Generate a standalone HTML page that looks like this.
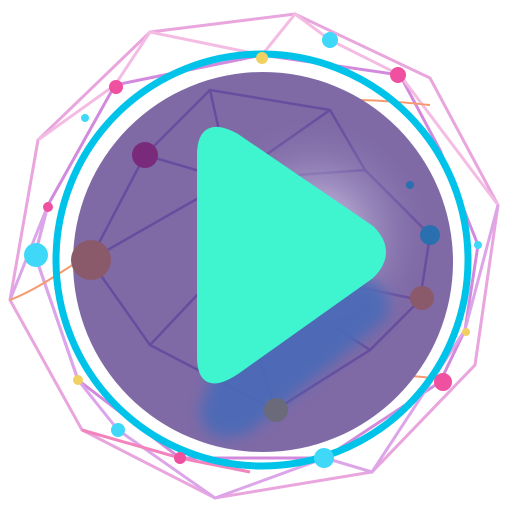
<!DOCTYPE html>
<html><head><meta charset="utf-8"><style>html,body{margin:0;padding:0;background:#fff;width:512px;height:512px;overflow:hidden}</style></head>
<body>
<svg width="512" height="512" viewBox="0 0 512 512">
<defs>
<radialGradient id="glow" cx="0.5" cy="0.5" r="0.5">
<stop offset="0" stop-color="#ffffff" stop-opacity="1"/>
<stop offset="0.35" stop-color="#c0b6dc" stop-opacity="0.65"/>
<stop offset="1" stop-color="#7f6aa6" stop-opacity="0"/>
</radialGradient>
<filter id="blur"><feGaussianBlur stdDeviation="7"/></filter>
</defs>
<g fill="none" stroke-width="3" opacity="0.7">
<polygon points="150,32 295,14 430,78 498,205 475,365 372,472 215,498 82,430 10,300 38,140" stroke="#e07fd0"/>
<polygon points="115,85 262,55 400,75 440,150 478,245 465,330 440,382 325,458 180,458 78,380 35,255 48,205" stroke="#c05ad0"/>
<polyline points="38,140 115,85 150,32 262,55 295,14 330,40 400,75 498,205" stroke="#f0a0d8"/>
<polyline points="10,300 48,205 35,255 78,380 118,430 215,498 325,458 372,472 465,330 498,205" stroke="#d080e0"/>
<polyline points="82,430 180,458 250,472" stroke="#ee4fa0"/>
<path d="M10,300 C60,280 80,250 150,230" stroke="#f07030" stroke-width="2"/>
<path d="M270,110 C330,95 380,100 430,105" stroke="#f07030" stroke-width="2"/>
<path d="M280,410 C340,380 400,370 440,380" stroke="#f07030" stroke-width="2"/>
</g>
<circle cx="263" cy="262" r="190" fill="#7f6aa6"/>
<g stroke="#5a3a9a" stroke-width="2.5" fill="none" opacity="0.6">
<polyline points="145,155 210,90 330,110 365,170 430,235 420,300 370,350 275,410 150,345 90,260 145,155"/>
<polyline points="145,155 230,180 330,110"/>
<polyline points="90,260 230,180 365,170"/>
<polyline points="150,345 230,260 420,300"/>
<polyline points="275,410 230,260 370,350"/>
<polyline points="210,90 230,180"/>
</g>
<circle cx="315" cy="235" r="120" fill="url(#glow)"/>
<path d="M230,320 L360,275 Q400,290 385,320 L250,432 Q205,450 200,410 Z" fill="#4a6ab8" opacity="0.9" filter="url(#blur)"/>
<circle cx="262" cy="260" r="206" fill="none" stroke="#00c3ea" stroke-width="7"/>
<path d="M202,155 Q202,120 235,138 L370,230 Q392,252 370,274 L235,370 Q202,392 202,357 Z" fill="#3ef5d0" stroke="#3ef5d0" stroke-width="10" stroke-linejoin="round"/>
<g>
<circle cx="145" cy="155" r="13" fill="#7a2a7a"/>
<circle cx="91" cy="260" r="20" fill="#8a5a6a"/>
<circle cx="36" cy="255" r="12" fill="#40d8f8"/>
<circle cx="330" cy="40" r="8" fill="#40d8f8"/>
<circle cx="398" cy="75" r="8" fill="#f050a0"/>
<circle cx="116" cy="87" r="7" fill="#f050a0"/>
<circle cx="262" cy="58" r="6" fill="#f0d060"/>
<circle cx="430" cy="235" r="10" fill="#2a70b0"/>
<circle cx="422" cy="298" r="12" fill="#8a5a6a"/>
<circle cx="276" cy="410" r="12" fill="#6a6a7a"/>
<circle cx="324" cy="458" r="10" fill="#40d8f8"/>
<circle cx="118" cy="430" r="7" fill="#40d8f8"/>
<circle cx="443" cy="382" r="9" fill="#f050a0"/>
<circle cx="180" cy="458" r="6" fill="#f050a0"/>
<circle cx="78" cy="380" r="5" fill="#f0d060"/>
<circle cx="466" cy="332" r="4" fill="#f0d060"/>
<circle cx="478" cy="245" r="4" fill="#40d8f8"/>
<circle cx="48" cy="207" r="5" fill="#f050a0"/>
<circle cx="410" cy="185" r="4" fill="#2a70b0"/>
<circle cx="85" cy="118" r="4" fill="#40d8f8"/>
</g>
</svg>
</body></html>
